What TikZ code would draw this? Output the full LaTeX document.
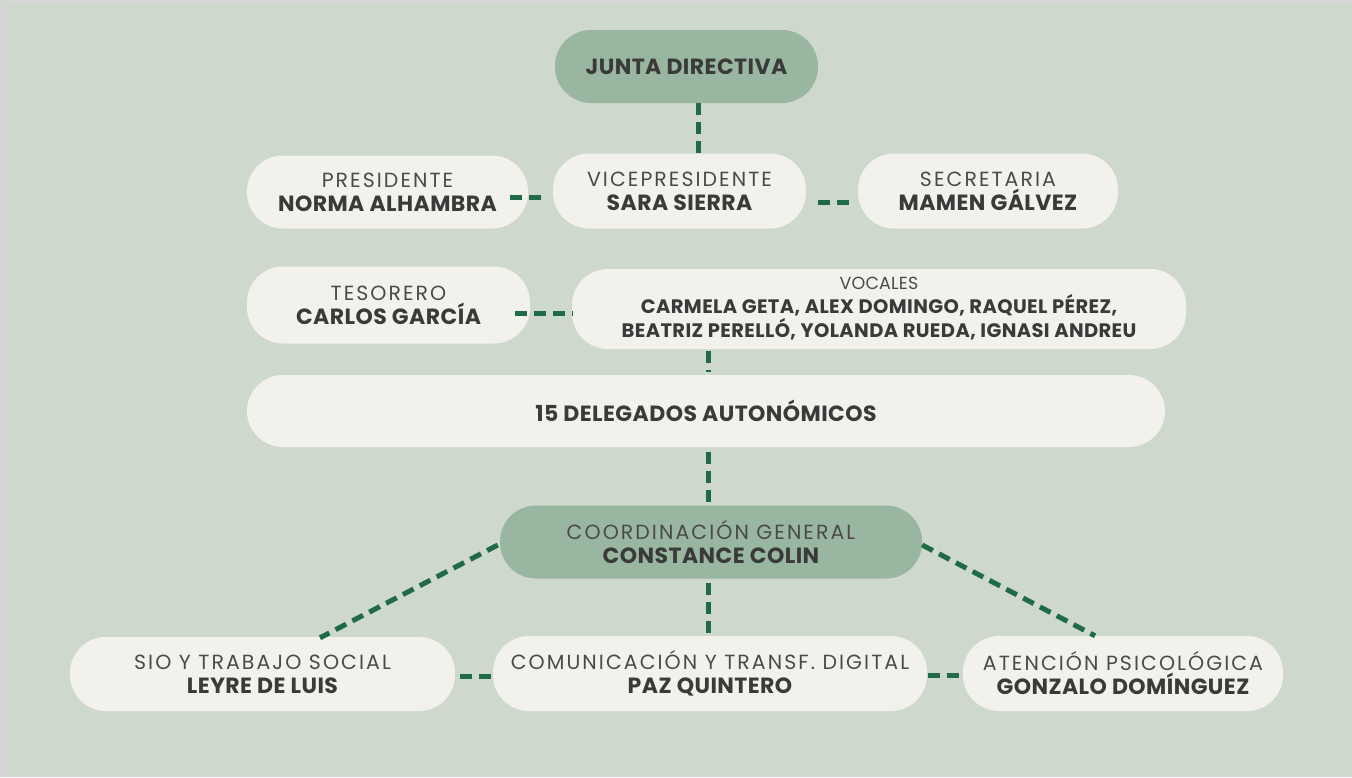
\documentclass[tikz,border=0pt]{standalone}
\usepackage{fontspec}
\setmainfont{Poppins}
\newfontfamily\ttl[LetterSpace=10]{Poppins}
\newfontfamily\ttlv[LetterSpace=1]{Poppins}
\newfontfamily\nm[LetterSpace=2]{Poppins}
\usetikzlibrary{calc}
\definecolor{edge}{HTML}{D6D6D4}
\definecolor{bg}{HTML}{CFD8CC}
\definecolor{pill}{HTML}{F3F1EC}
\definecolor{sage}{HTML}{98B6A0}
\definecolor{link}{HTML}{1F6B46}
\definecolor{ink}{HTML}{3A3A3A}
\definecolor{inkl}{HTML}{4A4A4A}
\tikzset{
  box/.style={rounded corners=36pt, fill=pill, inner sep=0pt, text=ink, align=center, font=\fontsize{19}{24}\selectfont},
  greenbox/.style={box, fill=sage},
  conn/.style={draw=link, line width=5pt, dash pattern=on 12pt off 7pt},
}
\newcommand{\ttlt}[1]{{\color{inkl}\ttl\fontsize{20.5}{24}\selectfont #1}}
\newcommand{\nmt}[1]{{\nm\bfseries\fontsize{22}{24}\selectfont #1}}
\newcommand{\voct}[1]{{\nm\bfseries\fontsize{19.5}{24}\selectfont #1}}
\begin{document}
\begin{tikzpicture}[x=1pt,y=-1pt]
\useasboundingbox (0,0) rectangle (1352,777);
\fill[edge] (0,0) rectangle (1352,777);
\fill[bg] (6,3) rectangle (1352,777);

\node[greenbox, minimum width=263pt, minimum height=73pt] (junta) at (686.5,66.5) {\nmt{JUNTA DIRECTIVA}};
\node[box, minimum width=281pt, minimum height=73pt] (pres) at (387.5,192) {\ttlt{PRESIDENTE}\\\nmt{NORMA ALHAMBRA}};
\node[box, minimum width=253pt, minimum height=75pt] (vice) at (679.5,191) {\ttlt{VICEPRESIDENTE}\\\nmt{SARA SIERRA}};
\node[box, minimum width=260pt, minimum height=75pt] (secr) at (988,191) {\ttlt{SECRETARIA}\\\nmt{MAMEN GÁLVEZ}};
\node[box, minimum width=283pt, minimum height=77pt] (teso) at (388.5,305) {\ttlt{TESORERO}\\\nmt{CARLOS GARCÍA}};
\node[box, minimum width=614pt, minimum height=80pt] (voca) at (879,309) {{\color{inkl}\ttlv\fontsize{17.5}{24}\selectfont VOCALES}\\\voct{CARMELA GETA, ALEX DOMINGO, RAQUEL PÉREZ,}\\\voct{BEATRIZ PERELLÓ, YOLANDA RUEDA, IGNASI ANDREU}};
\node[box, minimum width=918pt, minimum height=72pt] (dele) at (706,411) {\nmt{15 DELEGADOS AUTONÓMICOS}};
\node[greenbox, minimum width=422pt, minimum height=73pt] (coord) at (711,542) {\ttlt{COORDINACIÓN GENERAL}\\\nmt{CONSTANCE COLIN}};
\node[box, minimum width=385pt, minimum height=74pt] (sio) at (262.5,674) {\ttlt{SIO Y TRABAJO SOCIAL}\\\nmt{LEYRE DE LUIS}};
\node[box, minimum width=434pt, minimum height=75pt] (comu) at (710,673.5) {\ttlt{COMUNICACIÓN Y TRANSF. DIGITAL}\\\nmt{PAZ QUINTERO}};
\node[box, minimum width=320pt, minimum height=75pt] (aten) at (1123,673.5) {\ttlt{ATENCIÓN PSICOLÓGICA}\\\nmt{GONZALO DOMÍNGUEZ}};

\draw[conn] ($(junta.south)+(11.5,0)$) -- ($(vice.north)+(18.5,-0.5)$);
\draw[conn] ($(pres.east)+(-18,5)$) -- ($(vice.west)+(-5,6)$);
\draw[conn] ($(vice.east)+(12,11)$) -- ($(secr.west)+(-3,11)$);
\draw[conn] ($(teso.east)+(-15,8)$) -- ($(voca.west)+(1,4)$);
\draw[conn] ($(voca.south)+(-171,2)$) -- ($(dele.north)+(2,-3)$);
\draw[conn] ($(dele.south)+(2,5)$) -- ($(coord.north)+(-3,-2.5)$);
\draw[conn] ($(coord.south)+(-3,4.5)$) -- ($(comu.north)+(-2,-1)$);
\draw[conn] ($(coord.west)+(-2,3)$) -- ($(sio.north)+(57.5,1)$);
\draw[conn] ($(coord.east)+(0,3)$) -- ($(aten.north)+(-28,0)$);
\draw[conn] ($(sio.east)+(5,2)$) -- ($(comu.west)+(0,2.5)$);
\draw[conn] ($(comu.east)+(1,1.5)$) -- ($(aten.west)+(-3,1.5)$);
\end{tikzpicture}
\end{document}
